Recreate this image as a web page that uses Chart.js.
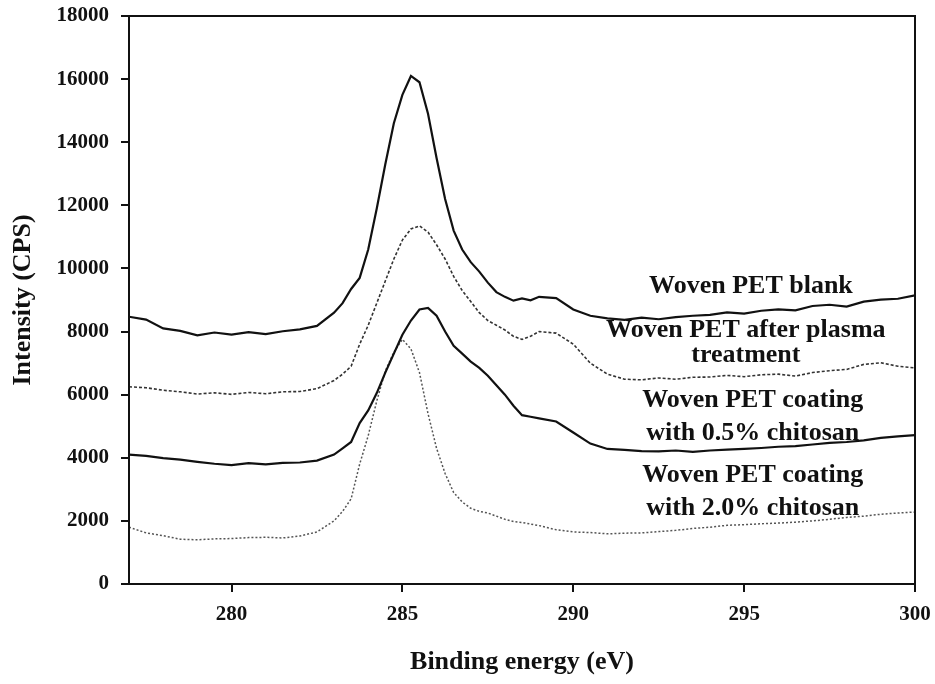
<!DOCTYPE html>
<html>
<head>
<meta charset="utf-8">
<script src="https://cdn.jsdelivr.net/npm/chart.js@4/dist/chart.umd.min.js"></script>
<style>
  body { margin: 0; background: #fff; }
  #wrap { position: relative; width: 935px; height: 684px; }
</style>
</head>
<body>
<div id="wrap"><canvas id="xps-chart"></canvas></div>
<script>
// binding energy grid (eV)
const energy = [
    277, 277.5, 278, 278.5, 279, 279.5, 280, 280.5, 281, 281.5, 282, 282.5,
    283, 283.25, 283.5, 283.75, 284, 284.25, 284.5, 284.75, 285, 285.25, 285.5, 285.75,
    286, 286.25, 286.5, 286.75, 287, 287.25, 287.5, 287.75, 288, 288.25, 288.5, 288.75, 289,
    289.5, 290, 290.5, 291, 291.5, 292, 292.5, 293, 293.5, 294, 294.5, 295, 295.5, 296,
    296.5, 297, 297.5, 298, 298.5, 299, 299.5, 300
];

const petBlank = [
    8470, 8380, 8100, 8020, 7880, 7970, 7900, 7980, 7920, 8010, 8070, 8180,
    8600, 8900, 9350, 9700, 10600, 11900, 13300, 14600, 15500, 16100, 15900, 14900,
    13500, 12200, 11200, 10600, 10200, 9900, 9550, 9250, 9100, 8980, 9050, 8990, 9100,
    9060, 8700, 8500, 8420, 8370, 8440, 8390, 8460, 8500, 8530, 8610, 8570, 8660, 8700,
    8670, 8810, 8850, 8790, 8950, 9010, 9040, 9150
];

const petPlasma = [
    6250, 6220, 6140, 6090, 6020, 6060, 6010, 6070, 6030, 6090, 6100, 6190,
    6450, 6650, 6900, 7600, 8200, 8900, 9600, 10300, 10900, 11250, 11350, 11150,
    10750, 10300, 9750, 9300, 8950, 8600, 8350, 8200, 8050, 7850, 7750, 7850, 8000,
    7950, 7600, 7000, 6650, 6490, 6470, 6530, 6490, 6550, 6560, 6610, 6570, 6630, 6650,
    6590, 6700, 6760, 6800, 6960, 7010, 6900, 6850
];

const petChitosan05 = [
    4100, 4060, 3990, 3940, 3870, 3810, 3770, 3830, 3790, 3840, 3850, 3910,
    4100, 4300, 4500, 5100, 5500, 6050, 6700, 7300, 7900, 8350, 8700, 8750,
    8500, 8000, 7550, 7300, 7050, 6850, 6600, 6300, 6000, 5650, 5350, 5300, 5250,
    5150, 4800, 4450, 4280, 4250, 4210, 4200, 4230, 4190, 4230, 4260, 4280, 4310, 4350,
    4370, 4420, 4470, 4500, 4550, 4630, 4680, 4720
];

const petChitosan20 = [
    1800, 1620, 1530, 1420, 1400, 1430, 1440, 1470, 1480, 1460, 1520, 1650,
    2000, 2300, 2700, 3800, 4700, 5800, 6750, 7350, 7750, 7450, 6700, 5400,
    4300, 3500, 2900, 2600, 2400, 2300, 2250, 2150, 2050, 1980, 1950, 1900, 1850,
    1720, 1650, 1630, 1590, 1610, 1620, 1660, 1700, 1760, 1800, 1860, 1880, 1910, 1930,
    1960, 2000, 2050, 2110, 2150, 2210, 2250, 2280
];

const xTicks = [280, 285, 290, 295, 300];

// curve labels: text lines, anchored at (eV, CPS) of each baseline
const curveLabels = [
    { text: 'Woven PET blank', x: 295.2, y: 9220 },
    { text: 'Woven PET after plasma', x: 295.05, y: 7830 },
    { text: 'treatment', x: 295.05, y: 7030 },
    { text: 'Woven PET coating', x: 295.25, y: 5610 },
    { text: 'with 0.5% chitosan', x: 295.25, y: 4560 },
    { text: 'Woven PET coating', x: 295.25, y: 3230 },
    { text: 'with 2.0% chitosan', x: 295.25, y: 2190 }
];

const serif = '"Liberation Serif", "Times New Roman", serif';

function toPoints(ys) {
    return energy.map((e, i) => ({ x: e, y: ys[i] }));
}

const frameAndLabels = {
    id: 'frameAndLabels',
    afterDatasetsDraw(chart) {
        const { ctx, chartArea, scales } = chart;
        ctx.save();
        ctx.strokeStyle = '#111';
        ctx.lineWidth = 2;
        ctx.strokeRect(chartArea.left, chartArea.top, chartArea.right - chartArea.left, chartArea.bottom - chartArea.top);
        ctx.fillStyle = '#111';
        ctx.font = 'bold 26px ' + serif;
        ctx.textAlign = 'center';
        ctx.textBaseline = 'alphabetic';
        curveLabels.forEach(l => {
            ctx.fillText(l.text, scales.x.getPixelForValue(l.x), scales.y.getPixelForValue(l.y));
        });
        ctx.restore();
    }
};

let xpsChart = new Chart(document.getElementById('xps-chart').getContext('2d'), {
    type: 'line',
    data: {
        datasets: [{
            label: 'Woven PET blank',
            data: toPoints(petBlank),
            borderColor: '#111',
            borderWidth: 2.2
        },
        {
            label: 'Woven PET after plasma treatment',
            data: toPoints(petPlasma),
            borderColor: '#333',
            borderWidth: 1.6,
            borderDash: [3, 2]
        },
        {
            label: 'Woven PET coating with 0.5% chitosan',
            data: toPoints(petChitosan05),
            borderColor: '#111',
            borderWidth: 2.2
        },
        {
            label: 'Woven PET coating with 2.0% chitosan',
            data: toPoints(petChitosan20),
            borderColor: '#555',
            borderWidth: 1.5,
            borderDash: [2, 2]
        }]
    },
    options: {
        responsive: true,
        maintainAspectRatio: false,
        animation: false,
        layout: { padding: { left: 0, top: 16, right: 20, bottom: 0 } },
        elements: {
            point: { radius: 0 },
            line: { tension: 0, fill: false }
        },
        plugins: {
            legend: { display: false },
            tooltip: { enabled: false }
        },
        scales: {
            x: {
                type: 'linear',
                min: 277,
                max: 300,
                afterBuildTicks: axis => { axis.ticks = xTicks.map(v => ({ value: v })); },
                afterFit: axis => {
                    axis.height = 100;
                    axis.paddingLeft = 0;
                    axis.paddingRight = 0;
                },
                grid: { drawOnChartArea: false, drawTicks: true, tickLength: 8, color: '#111', lineWidth: 2 },
                border: { display: true, color: '#111', width: 2 },
                ticks: {
                    color: '#111',
                    padding: 10,
                    maxRotation: 0,
                    font: { family: serif, size: 21, weight: 'bold' }
                },
                title: {
                    display: true,
                    text: 'Binding energy (eV)',
                    color: '#111',
                    padding: { top: 0, bottom: 6 },
                    font: { family: serif, size: 26, weight: 'bold' }
                }
            },
            y: {
                min: 0,
                max: 18000,
                afterFit: axis => {
                    axis.width = 129;
                    axis.paddingTop = 0;
                    axis.paddingBottom = 0;
                },
                grid: { drawOnChartArea: false, drawTicks: true, tickLength: 8, color: '#111', lineWidth: 2 },
                border: { display: true, color: '#111', width: 2 },
                ticks: {
                    stepSize: 2000,
                    color: '#111',
                    padding: 12,
                    callback: v => String(v),
                    font: { family: serif, size: 21, weight: 'bold' }
                },
                title: {
                    display: true,
                    text: 'Intensity (CPS)',
                    color: '#111',
                    padding: { top: 8, bottom: 0 },
                    font: { family: serif, size: 26, weight: 'bold' }
                }
            }
        }
    },
    plugins: [frameAndLabels]
});
</script>
</body>
</html>
